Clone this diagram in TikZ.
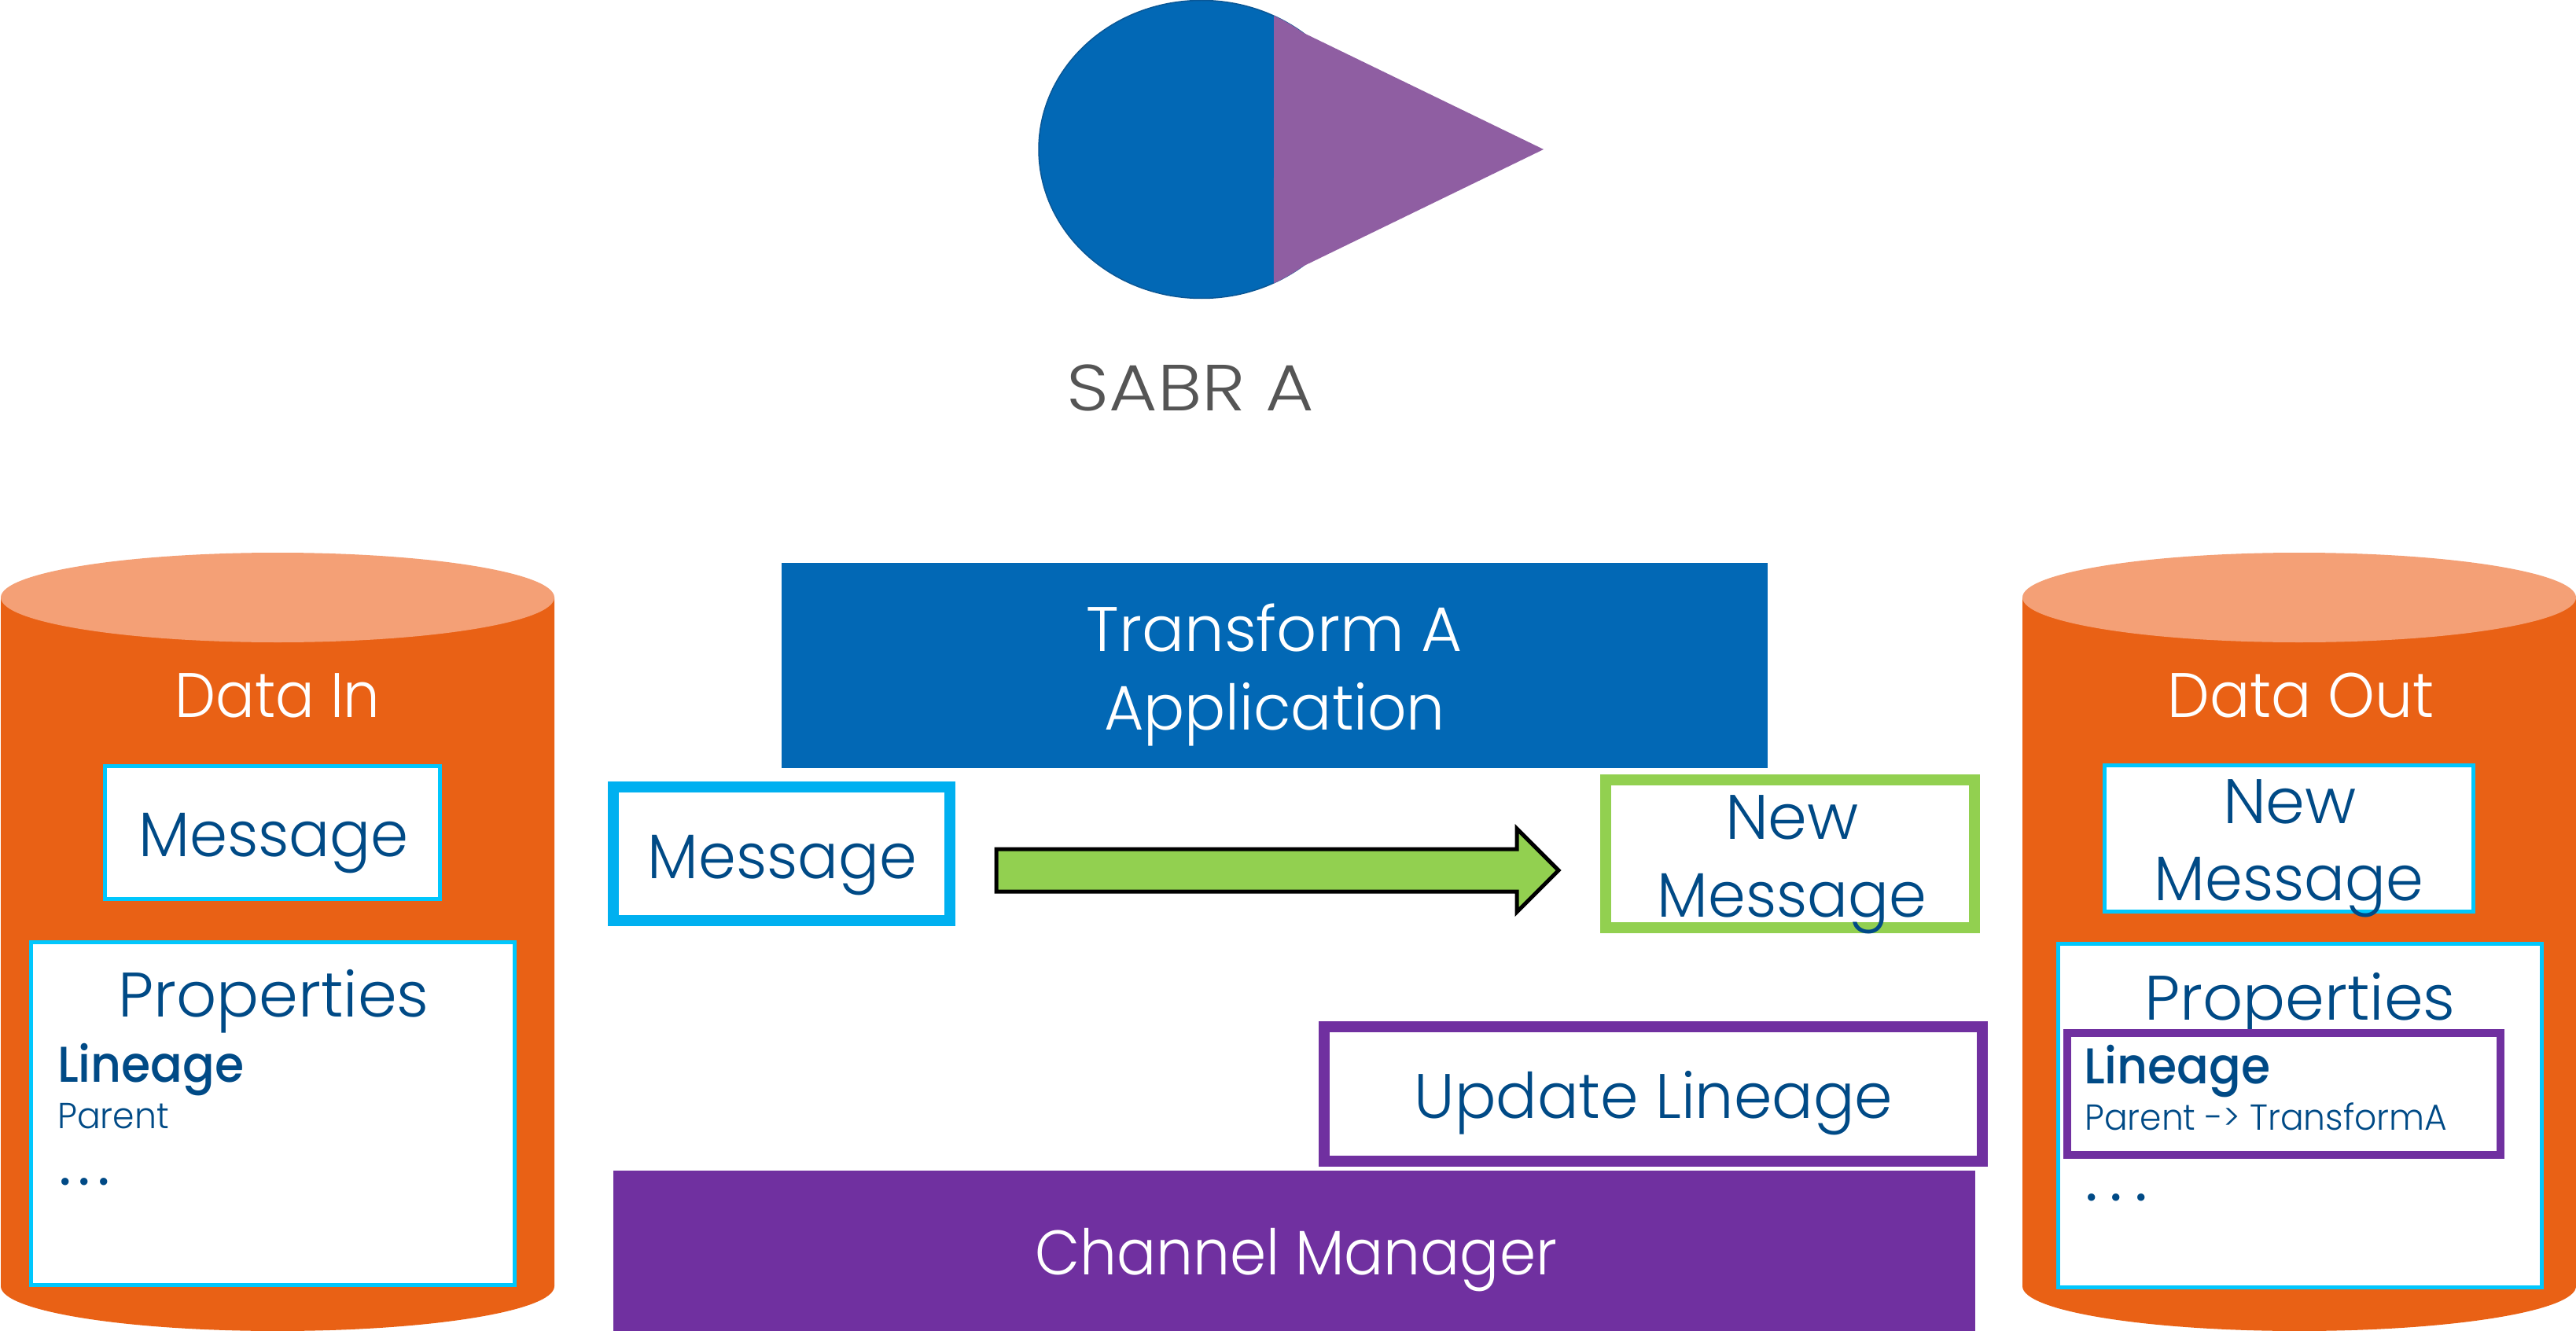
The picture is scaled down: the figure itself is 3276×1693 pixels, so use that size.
\documentclass[tikz,border=0pt]{standalone}
\usepackage{fontspec}
\setmainfont{Poppins Light}[BoldFont={Poppins Medium}]
\usetikzlibrary{shapes.geometric}
\definecolor{tblue}{HTML}{004A86}
\definecolor{bluefill}{HTML}{0268B5}
\definecolor{blueedge}{HTML}{0A5796}
\definecolor{violet1}{HTML}{8F5EA2}
\definecolor{orangeA}{HTML}{E96115}
\definecolor{orangeB}{HTML}{F4A076}
\definecolor{cyanA}{HTML}{00C7FD}
\definecolor{cyanB}{HTML}{00B0F0}
\definecolor{greenA}{HTML}{92D050}
\definecolor{purpleA}{HTML}{7030A0}
\definecolor{greyA}{HTML}{555555}
\tikzset{topcap/.style={ellipse,fill=orangeB,minimum height=114pt,inner sep=0pt,outer sep=0pt}}
\newcommand{\cyl}[5]{% name, x0, x1, x-centre, radius
  \fill[orangeA] (#2,760) -- (#2,1636) arc[start angle=180,end angle=0,x radius=#5,y radius=57] -- (#3,760) -- cycle;
  \node[topcap,minimum width=#3pt-#2pt,anchor=center] (#1) at (#4,760) {};
}
\newcommand{\bx}[7]{% name, x0, y0, x1, y1, colour, line width
  \node[draw=#6,fill=white,line width=#7pt,inner sep=0pt,outer sep=0pt,
        minimum width=#4pt-#2pt-#7pt,minimum height=#5pt-#3pt-#7pt]
        (#1) at ({(#2+#4)/2},{(#3+#5)/2}) {};
}
\newcommand{\tx}[7][1]{% [x stretch] name, cx, baseline, size, colour, text
  \node[anchor=base,inner sep=0pt,text=#6,font=\fontsize{#5}{#5}\selectfont] (#2) at (#3,#4) {\scalebox{#1}[1]{#7}};
}
\newcommand{\txl}[7][1]{% [x stretch] name, left, baseline, size, colour, text
  \node[anchor=base west,inner sep=0pt,text=#6,font=\fontsize{#5}{#5}\selectfont] (#2) at (#3,#4) {\scalebox{#1}[1]{#7}};
}
\begin{document}
\begin{tikzpicture}[x=1pt,y=-1pt]
\useasboundingbox (0,0) rectangle (3276,1693);
\fill[white] (0,0) rectangle (3276,1693);
% SABR shape
\coordinate (tip) at (1963,190);
\draw[fill=bluefill,draw=blueedge,line width=1.5pt] (1528,190) ellipse[x radius=207,y radius=189.5];
\fill[violet1] (1620,20) arc[start angle=-63.6,end angle=-51.6,x radius=207,y radius=190] -- (tip) -- (1656.5,339) arc[start angle=51.6,end angle=63.6,x radius=207,y radius=190] -- cycle;
\tx[1.137]{sabr}{1514}{522}{83}{greyA}{SABR A}
% cylinders
\cyl{inTop}{1}{705}{353}{352}
\cyl{outTop}{2572}{3276}{2924}{352}
\tx[.92]{dataIn}{353}{912}{80}{white}{Data In}
\tx[.95]{dataOut}{2926}{912}{80}{white}{Data Out}
% left inner boxes
\bx{msgIn}{131}{972}{562}{1146}{cyanA}{5}
\tx[.965]{msgInT}{348}{1089}{80}{tblue}{Message}
\bx{propIn}{37}{1196}{657}{1637}{cyanA}{5}
\tx{propInT}{348}{1293}{80}{tblue}{Properties}
\txl[.94]{linIn}{73}{1376}{64}{tblue}{\bfseries Lineage}
\txl[.96]{parIn}{73}{1435}{46}{tblue}{Parent}
\txl{dotsIn}{75}{1507}{64}{tblue}{\bfseries .\kern9pt.\kern9pt.}
% right inner boxes
\bx{msgOut}{2674}{971}{3148}{1162}{cyanA}{5}
\tx{newOutT}{2912}{1047}{80}{tblue}{New}
\tx[.96]{msgOutT}{2911}{1145}{80}{tblue}{Message}
\bx{propOut}{2615}{1198}{3235}{1640}{cyanA}{5}
\tx{propOutT}{2925}{1297}{80}{tblue}{Properties}
\bx{linBox}{2624}{1309}{3185}{1474}{purpleA}{10}
\txl[.94]{linOut}{2650}{1378}{64}{tblue}{\bfseries Lineage}
\txl[.957]{parOut}{2651}{1437}{46}{tblue}{Parent -> TransformA}
\txl{dotsOut}{2652}{1527}{64}{tblue}{\bfseries .\kern16pt.\kern16pt.}
% middle
\node[fill=bluefill,inner sep=0pt,outer sep=0pt,minimum width=1254pt,minimum height=261pt] (app) at (1621,846.5) {};
\tx{appA}{1621}{828}{80}{white}{Transform A}
\tx[.967]{appB}{1621}{928}{80}{white}{Application}
\bx{msgMid}{773}{994}{1215}{1178}{cyanB}{14}
\tx[.96]{msgMidT}{995}{1117}{80}{tblue}{Message}
\bx{newMid}{2035}{985}{2518}{1187}{greenA}{14}
\tx{newMidA}{2279}{1067}{80}{tblue}{New}
\tx[.96]{newMidB}{2279}{1166}{80}{tblue}{Message}
\bx{upd}{1677}{1299}{2528}{1484}{purpleA}{14}
\tx[.973]{updT}{2103}{1422}{80}{tblue}{Update Lineage}
\node[fill=purpleA,inner sep=0pt,outer sep=0pt,minimum width=1732pt,minimum height=204pt] (chan) at (1646,1591) {};
\tx[.927]{chanT}{1648}{1621}{80}{white}{Channel Manager}
% block arrow
\draw[fill=greenA,draw=black,line width=5pt,line join=miter] (1267,1080) -- (1929,1080) -- (1929,1054) -- (1982,1107) -- (1929,1160) -- (1929,1134) -- (1267,1134) -- cycle;
\end{tikzpicture}
\end{document}
